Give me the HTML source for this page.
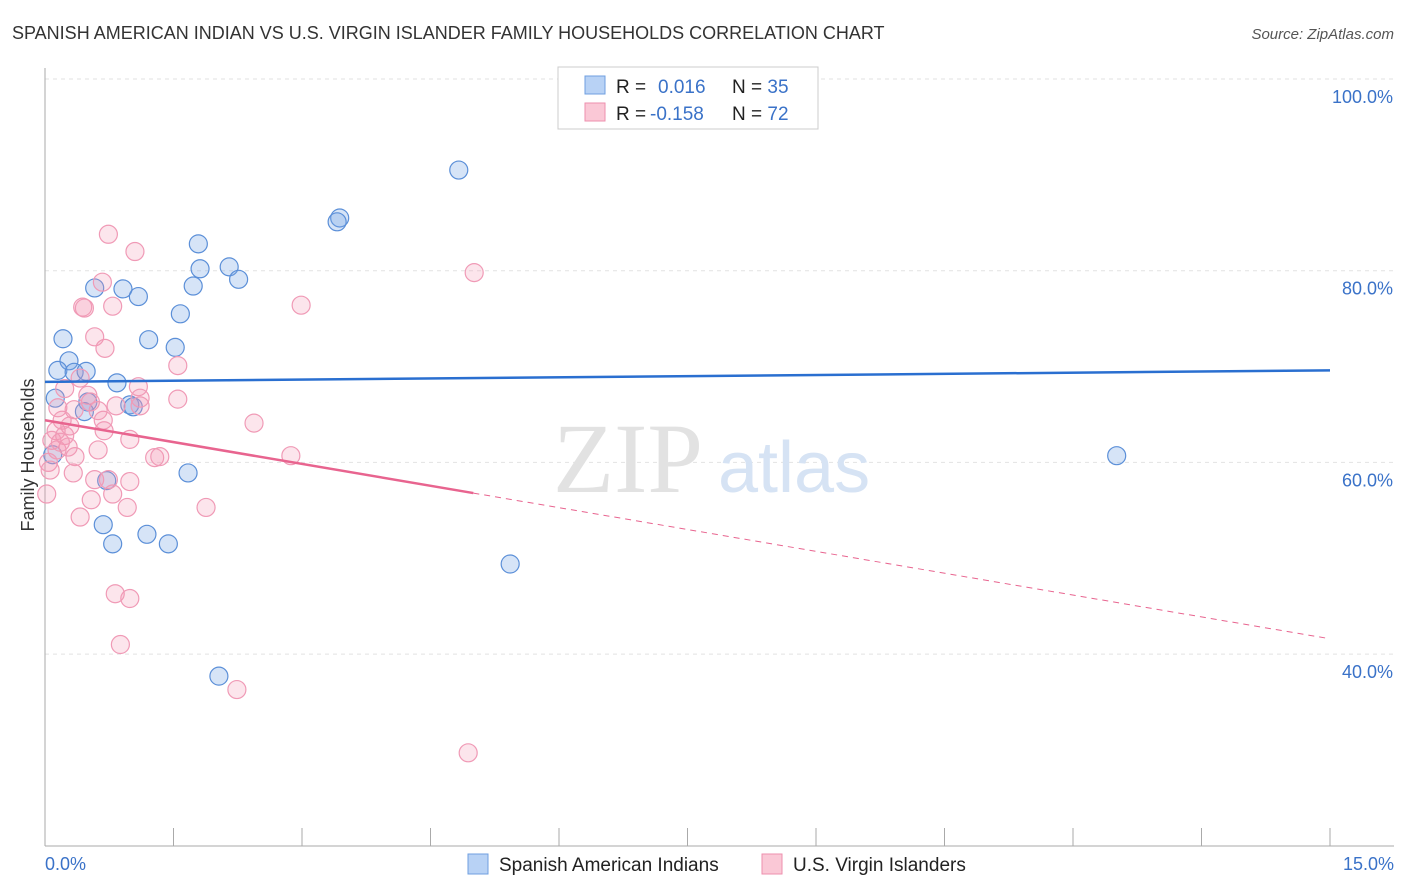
<!DOCTYPE html>
<html><head><meta charset="utf-8"><style>
body{margin:0;background:#fff;font-family:"Liberation Sans",sans-serif;}
svg{display:block}
</style></head><body>
<svg id="chart" width="1406" height="892" xmlns="http://www.w3.org/2000/svg">
<text x="12" y="39" font-size="18" fill="#333">SPANISH AMERICAN INDIAN VS U.S. VIRGIN ISLANDER FAMILY HOUSEHOLDS CORRELATION CHART</text>
<text x="1394" y="39" font-size="15" font-style="italic" fill="#555" text-anchor="end">Source: ZipAtlas.com</text>
<g id="grid"></g>
<text x="553" y="492" font-size="100" font-family="Liberation Serif,serif" fill="#e2e2e2">ZIP</text>
<text x="718" y="492" font-size="72" fill="#d6e3f4">atlas</text>
<g id="marks"></g>
<text x="34" y="455" font-size="18" fill="#333" text-anchor="middle" transform="rotate(-90 34 455)">Family Households</text>
<g>
<rect x="558" y="67" width="260" height="62" fill="#fff" stroke="#ccc"/>
<rect x="585" y="76" width="20" height="18" fill="#b8d2f5" stroke="#6f9fe0"/>
<rect x="585" y="103" width="20" height="18" fill="#fac8d6" stroke="#ee8fae"/>
<text x="616" y="93" font-size="19" fill="#222">R = <tspan x="658" fill="#3a72c8">0.016</tspan><tspan x="732" fill="#222">N = </tspan><tspan fill="#3a72c8">35</tspan></text>
<text x="616" y="120" font-size="19" fill="#222">R = <tspan x="650" fill="#3a72c8">-0.158</tspan><tspan x="732" fill="#222">N = </tspan><tspan fill="#3a72c8">72</tspan></text>
</g>
<g>
<rect x="468" y="854" width="20" height="20" fill="#b8d2f5" stroke="#6f9fe0"/>
<text x="499" y="871" font-size="19" fill="#222">Spanish American Indians</text>
<rect x="762" y="854" width="20" height="20" fill="#fac8d6" stroke="#ee8fae"/>
<text x="793" y="871" font-size="19" fill="#222">U.S. Virgin Islanders</text>
</g>
</svg>
<script>
const xTicks=[0,1.5,3,4.5,6,7.5,9,10.5,12,13.5,15];
const yTicks=[40,60,80,100];
const blueX=[4.83,3.44,3.41,1.79,1.81,2.15,2.26,0.58,0.91,1.09,1.73,1.58,0.21,1.21,1.52,0.28,0.15,0.34,0.48,0.84,0.12,0.50,0.99,1.03,0.46,0.09,1.67,0.72,0.68,0.79,1.19,1.44,5.43,2.03,12.51];
const blueY=[90.5,85.5,85.1,82.8,80.2,80.4,79.1,78.2,78.1,77.3,78.4,75.5,72.9,72.8,72.0,70.6,69.6,69.4,69.5,68.3,66.7,66.3,66.0,65.8,65.3,60.8,58.9,58.1,53.5,51.5,52.5,51.5,49.4,37.7,60.7];
const pinkX=[0.74,1.05,5.01,0.67,0.44,0.46,0.79,2.99,0.58,0.70,1.55,0.41,1.09,0.23,1.55,1.11,0.83,1.11,0.53,0.15,0.34,0.62,0.20,0.68,2.44,0.29,0.13,0.69,0.23,0.99,0.08,0.27,0.62,0.14,0.35,1.28,1.34,2.87,0.04,0.33,0.58,0.74,0.99,0.79,0.54,0.96,1.88,0.41,0.82,0.99,0.88,2.24,4.94,0.18,0.50,0.06,0.02];
const pinkY=[83.8,82.0,79.8,78.8,76.2,76.1,76.3,76.4,73.1,71.9,70.1,68.8,67.9,67.7,66.6,66.7,65.9,65.9,66.3,65.7,65.5,65.4,64.4,64.4,64.1,63.8,63.3,63.3,62.8,62.4,62.3,61.6,61.3,61.3,60.6,60.5,60.6,60.7,60.0,58.9,58.2,58.2,58.0,56.7,56.1,55.3,55.3,54.3,46.3,45.8,41.0,36.3,29.7,62.1,67.0,59.2,56.7];
const blueTrend=[68.4,69.6];
const pinkTrend=[64.4,41.6];
const pinkSolidEnd=5.0;
const X=v=>45+v*(1285/15);
const Y=v=>79+(100-v)*(191.7/20);
const NS='http://www.w3.org/2000/svg';
function mk(tag,attrs,parent){const e=document.createElementNS(NS,tag);for(const k in attrs)e.setAttribute(k,attrs[k]);parent.appendChild(e);return e;}
const grid=document.getElementById('grid');
const marks=document.getElementById('marks');
yTicks.forEach(t=>{
 const l=mk('line',{x1:45,x2:1394,y1:Y(t),y2:Y(t),stroke:'#e2e2e2','stroke-dasharray':'4 4'},grid);
 
 
 const tx=mk('text',{x:1393,y:Y(t)+24,'font-size':18,fill:'#3a72c8','text-anchor':'end'},grid);
 tx.textContent=t.toFixed(1)+'%';
 
 
});
let ax=mk('line',{x1:45,x2:45,y1:68,y2:846,stroke:'#aaa'},grid);


ax=mk('line',{x1:45,x2:1394,y1:846,y2:846,stroke:'#aaa'},grid);


xTicks.forEach(t=>{
 const l=mk('line',{x1:X(t),x2:X(t),y1:828,y2:846,stroke:'#aaa'},grid);
 
 
});
[[0,'start',45],[15,'end',1394]].forEach(([t,a,x])=>{
 const tx=mk('text',{x:x,y:870,'font-size':18,fill:'#3a72c8','text-anchor':a},grid);
 tx.textContent=t.toFixed(1)+'%';
 
 
});
blueX.forEach((x,i)=>{
 const c=mk('circle',{cx:X(x),cy:Y(blueY[i]),r:9,fill:'rgba(120,165,230,0.3)',stroke:'#5b8fd8','stroke-width':1.2},marks);
 
 
});
pinkX.forEach((x,i)=>{
 const c=mk('circle',{cx:X(x),cy:Y(pinkY[i]),r:9,fill:'rgba(245,150,180,0.25)',stroke:'#f09ab6','stroke-width':1.2},marks);
 
 
});
let tl=mk('line',{x1:X(0),y1:Y(blueTrend[0]),x2:X(15),y2:Y(blueTrend[1]),stroke:'#2a6fd0','stroke-width':2.5},marks);


const pAt=x=>pinkTrend[0]+(pinkTrend[1]-pinkTrend[0])*x/15;
tl=mk('line',{x1:X(0),y1:Y(pAt(0)),x2:X(pinkSolidEnd),y2:Y(pAt(pinkSolidEnd)),stroke:'#e8648f','stroke-width':2.5},marks);


tl=mk('line',{x1:X(pinkSolidEnd),y1:Y(pAt(pinkSolidEnd)),x2:X(15),y2:Y(pAt(15)),stroke:'#e8648f','stroke-width':1,'stroke-dasharray':'6 5'},marks);


</script>
</body></html>
